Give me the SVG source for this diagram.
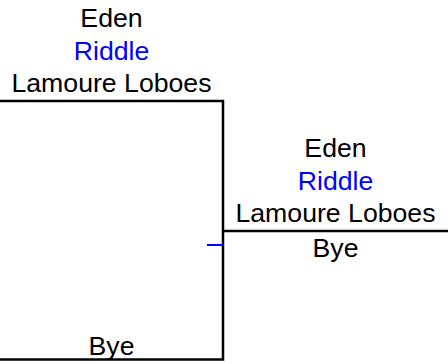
<svg xmlns="http://www.w3.org/2000/svg" width="448" height="364" viewBox="0 0 448 364">
<style>
text{font-family:"Liberation Sans",Arial,sans-serif;font-size:26.67px;text-anchor:middle;fill:#000}
.b{fill:#0000ff}
.ln{stroke:#000;stroke-width:2.5;fill:none}
.tk{stroke:#0000ff;stroke-width:2;fill:none}
</style>
<rect width="448" height="364" fill="#fff"/>
<g id="connectors">
<path class="ln" d="M0 101H223V359.5H0"/>
<path class="ln" d="M223 231H448"/>
<path class="tk" d="M207 245H223"/>
</g>
<g id="node-top">
<text x="111.5" y="27.3">Eden</text>
<text class="b" x="111.5" y="59.5">Riddle</text>
<text x="111.5" y="91.7">Lamoure Loboes</text>
</g>
<g id="node-bottom">
<text x="111.5" y="354.5">Bye</text>
</g>
<g id="node-final">
<text x="335.5" y="157.3">Eden</text>
<text class="b" x="335.5" y="189.5">Riddle</text>
<text x="335.5" y="221.7">Lamoure Loboes</text>
<text x="335.5" y="257.3">Bye</text>
</g>
</svg>
